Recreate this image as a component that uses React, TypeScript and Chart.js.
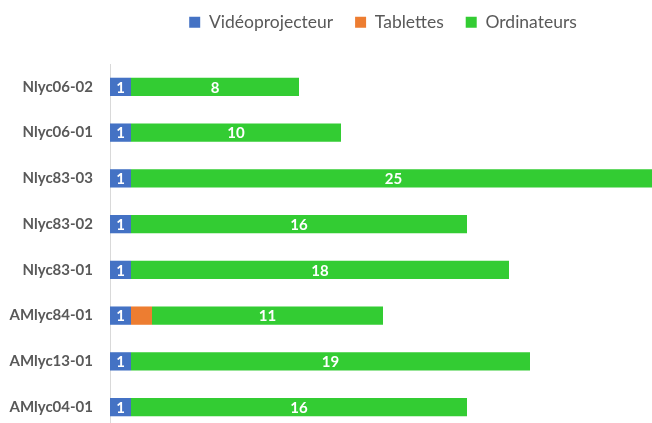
import React, { useEffect, useRef } from "react";
import { Chart, registerables } from "chart.js";

Chart.register(...registerables);

const categories = [
  "Nlyc06-02",
  "Nlyc06-01",
  "Nlyc83-03",
  "Nlyc83-02",
  "Nlyc83-01",
  "AMlyc84-01",
  "AMlyc13-01",
  "AMlyc04-01",
];
const videoprojecteur = [1, 1, 1, 1, 1, 1, 1, 1];
const tablettes = [0, 0, 0, 0, 0, 1, 0, 0];
const ordinateurs = [8, 10, 25, 16, 18, 11, 19, 16];
const labelledSeries = [0, 2];

const FONT = "Lato, 'Liberation Sans', sans-serif";

const valueLabels = {
  id: "valueLabels",
  afterLayout(chart: any) {
    const lg = chart.legend;
    if (lg) {
      lg.left = chart.chartArea.left;
      lg.right = chart.chartArea.right;
      lg.top -= 23;
      lg.bottom -= 23;
    }
  },
  afterDatasetsDraw(chart: any) {
    const ctx = chart.ctx;
    ctx.save();
    ctx.fillStyle = "#ffffff";
    ctx.font = `bold 15px ${FONT}`;
    ctx.textAlign = "center";
    ctx.textBaseline = "middle";
    labelledSeries.forEach((di) => {
      const meta = chart.getDatasetMeta(di);
      const data = chart.data.datasets[di].data as number[];
      meta.data.forEach((el: any, i: number) => {
        const v = data[i];
        if (!v) return;
        const cx = (el.x + el.base) / 2;
        ctx.fillText(String(v), cx, el.y + 1);
      });
    });
    ctx.restore();
  },
};

export default function App() {
  const ref = useRef<HTMLCanvasElement>(null);
  useEffect(() => {
    if (!ref.current) return;
    const chart = new Chart(ref.current, {
      type: "bar",
      data: {
        labels: categories,
        datasets: [
          { label: "Vidéoprojecteur", data: videoprojecteur, backgroundColor: "#4472C4" },
          { label: "Tablettes", data: tablettes, backgroundColor: "#ED7D31" },
          { label: "Ordinateurs", data: ordinateurs, backgroundColor: "#33CC33" },
        ],
      },
      options: {
        indexAxis: "y",
        animation: false,
        responsive: true,
        maintainAspectRatio: false,
        devicePixelRatio: 1,
        layout: { padding: { left: 0, top: -10, right: 0, bottom: 0 } },
        datasets: {
          bar: { categoryPercentage: 1, barPercentage: 0.4 },
        },
        scales: {
          x: {
            stacked: true,
            min: 0,
            max: 26,
            display: false,
          },
          y: {
            stacked: true,
            grid: { display: false, drawTicks: false },
            border: { display: true, color: "#d9d9d9", width: 1 },
            ticks: {
              padding: 17,
              color: "#595959",
              font: { family: FONT, size: 15, weight: "bold" },
            },
            afterFit(scale: any) {
              scale.width = 110;
              scale.paddingTop = 64;
              scale.paddingBottom = 0;
            },
          },
        },
        plugins: {
          legend: {
            position: "top",
            align: "center",
            labels: {
              boxWidth: 11,
              boxHeight: 11,
              padding: 22,
              color: "#595959",
              font: { family: FONT, size: 17.5 },
            },
          },
          tooltip: { enabled: false },
        },
      },
      plugins: [valueLabels],
    });
    return () => chart.destroy();
  }, []);
  return (
    <div
      style={{
        position: "fixed",
        left: 0,
        top: 0,
        width: 652,
        height: 423,
        overflow: "hidden",
        background: "#ffffff",
      }}
    >
      <div style={{ position: "relative", width: 656, height: 430 }}>
        <canvas ref={ref} />
      </div>
    </div>
  );
}
